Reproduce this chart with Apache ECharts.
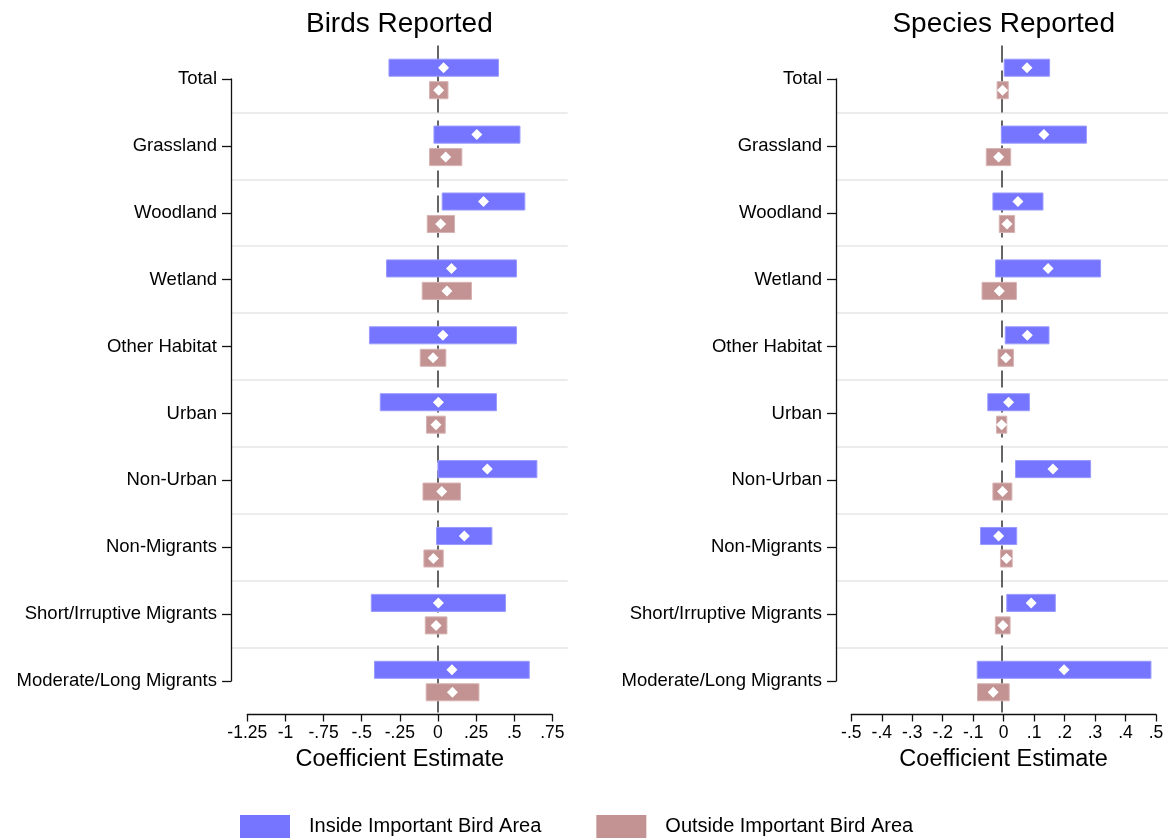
<!DOCTYPE html>
<html>
<head>
<meta charset="utf-8">
<script src="https://cdn.jsdelivr.net/npm/echarts@6/dist/echarts.min.js"></script>
<style>
html,body{margin:0;padding:0;background:#fff;}
#chart{width:1168px;height:840px;}
</style>
</head>
<body>
<div id="chart"></div>
<script>
// ---------- data ----------
const categories = ['Total','Grassland','Woodland','Wetland','Other Habitat','Urban','Non-Urban','Non-Migrants','Short/Irruptive Migrants','Moderate/Long Migrants'];

// Birds Reported – Inside Important Bird Area
const birdsInEst = [0.037, 0.255, 0.299, 0.089, 0.033, 0.003, 0.324, 0.173, 0.003, 0.092];
const birdsInLo  = [-0.321, -0.026, 0.028, -0.337, -0.449, -0.378, 0.000, -0.009, -0.437, -0.416];
const birdsInHi  = [0.397, 0.538, 0.570, 0.515, 0.515, 0.384, 0.649, 0.354, 0.443, 0.599];
// Birds Reported – Outside Important Bird Area
const birdsOutEst = [0.005, 0.051, 0.018, 0.059, -0.032, -0.013, 0.025, -0.030, -0.012, 0.095];
const birdsOutLo  = [-0.055, -0.055, -0.070, -0.103, -0.116, -0.075, -0.098, -0.092, -0.083, -0.077];
const birdsOutHi  = [0.066, 0.157, 0.109, 0.220, 0.052, 0.048, 0.148, 0.035, 0.059, 0.269];

// Species Reported – Inside Important Bird Area
const speciesInEst = [0.083, 0.139, 0.053, 0.153, 0.084, 0.022, 0.169, -0.011, 0.097, 0.206];
const speciesInLo  = [0.0075, -0.002, -0.030, -0.021, 0.011, -0.047, 0.045, -0.071, 0.016, -0.082];
const speciesInHi  = [0.158, 0.280, 0.136, 0.327, 0.156, 0.091, 0.294, 0.049, 0.177, 0.494];
// Species Reported – Outside Important Bird Area
const speciesOutEst = [0.002, -0.011, 0.017, -0.009, 0.013, -0.001, 0.002, 0.015, 0.003, -0.029];
const speciesOutLo  = [-0.016, -0.052, -0.009, -0.066, -0.013, -0.018, -0.030, -0.005, -0.022, -0.081];
const speciesOutHi  = [0.021, 0.029, 0.042, 0.048, 0.038, 0.016, 0.033, 0.034, 0.027, 0.024];

// tick values
const birdsTicks   = [-1.25, -1, -0.75, -0.5, -0.25, 0, 0.25, 0.5, 0.75];
const speciesTicks = [-0.5, -0.4, -0.3, -0.2, -0.1, 0, 0.1, 0.2, 0.3, 0.4, 0.5];

const titles = ['Birds Reported', 'Species Reported'];
const seriesNames = ['Inside Important Bird Area', 'Outside Important Bird Area'];
const axisTitle = 'Coefficient Estimate';

// ---------- styling ----------
const FONT = '"Liberation Sans", Arial, Helvetica, sans-serif';
const BLUE = '#7575FF', BLUE_EDGE = '#9a9aff';
const ROSE = '#C39393', ROSE_EDGE = '#d8b3b3';
const W = 1168, H = 840;

function fmtTick(v) {
  let s = String(Number(v.toFixed(2)));
  s = s.replace(/^0\./, '.').replace(/^-0\./, '-.');
  return s;
}

function rows(est, lo, hi) {
  return categories.map((c, i) => [i, lo[i], hi[i], est[i]]);
}

function makeRender(sign, fill, edge) {
  return function (params, api) {
    const i = api.value(0);
    const p0 = api.coord([api.value(1), i]);
    const p1 = api.coord([api.value(2), i]);
    const pe = api.coord([api.value(3), i]);
    const band = api.size([0, 1])[1];
    const cy = p0[1] + sign * band * 0.168;
    const h = band * 0.255;
    const d = 5.5;
    return {
      type: 'group',
      children: [
        { type: 'rect', shape: { x: p0[0], y: cy - h / 2, width: p1[0] - p0[0], height: h },
          style: { fill: fill, stroke: edge, lineWidth: 1 } },
        { type: 'polygon', shape: { points: [[pe[0], cy - d], [pe[0] + d, cy], [pe[0], cy + d], [pe[0] - d, cy]] },
          style: { fill: '#ffffff' } }
      ]
    };
  };
}

// panel geometry: plot region, tick span
const panels = [
  { plotLeft: 231, plotRight: 567.7, tickLeft: 247.3, tickRight: 552.3, ticks: birdsTicks,
    inE: birdsInEst, inL: birdsInLo, inH: birdsInHi, outE: birdsOutEst, outL: birdsOutLo, outH: birdsOutHi },
  { plotLeft: 836, plotRight: 1171.4, tickLeft: 851.3, tickRight: 1156, ticks: speciesTicks,
    inE: speciesInEst, inL: speciesInLo, inH: speciesInHi, outE: speciesOutEst, outL: speciesOutLo, outH: speciesOutHi }
];
const plotTop = 45.5, plotBottom = 714.5;
const catTop = 79, catBottom = 681;

const grid = [], xAxis = [], yAxis = [], series = [], title = [];

panels.forEach((p, k) => {
  const t0 = p.ticks[0], t1 = p.ticks[p.ticks.length - 1];
  const perPx = (t1 - t0) / (p.tickRight - p.tickLeft);
  const dataMin = t0 - (p.tickLeft - p.plotLeft) * perPx;
  const dataMax = t1 + (p.plotRight - p.tickRight) * perPx;
  const base = k * 3;

  // grid A: data
  grid.push({ left: p.plotLeft, width: p.plotRight - p.plotLeft, top: plotTop, height: plotBottom - plotTop });
  xAxis.push({ gridIndex: base, type: 'value', min: dataMin, max: dataMax, show: false });
  yAxis.push({ gridIndex: base, type: 'category', data: categories, inverse: true, boundaryGap: true,
    axisLine: { show: false }, axisTick: { show: false }, axisLabel: { show: false },
    splitLine: { show: true, showMinLine: false, showMaxLine: false, lineStyle: { color: '#e6e6e6', width: 1.5 } } });

  // grid B: category axis line & labels (spans first to last category)
  grid.push({ left: p.plotLeft, width: 10, top: catTop, height: catBottom - catTop });
  xAxis.push({ gridIndex: base + 1, type: 'value', show: false });
  yAxis.push({ gridIndex: base + 1, type: 'category', data: categories, inverse: true, boundaryGap: false,
    axisLine: { show: true, lineStyle: { color: '#111', width: 1.3 } },
    axisTick: { show: true, length: 9, lineStyle: { color: '#111', width: 1.3 } },
    axisLabel: { show: true, margin: 14, fontSize: 18.5, color: '#000', fontFamily: FONT },
    splitLine: { show: false } });

  // grid C: value axis line & labels (spans tick range)
  grid.push({ left: p.tickLeft, width: p.tickRight - p.tickLeft, top: plotTop, height: plotBottom - plotTop });
  xAxis.push({ gridIndex: base + 2, type: 'value', min: t0, max: t1, interval: p.ticks[1] - p.ticks[0],
    axisLine: { show: true, onZero: false, lineStyle: { color: '#111', width: 1.3 } },
    axisTick: { show: true, length: 7, lineStyle: { color: '#111', width: 1.3 } },
    axisLabel: { margin: 10, fontSize: 17.5, color: '#000', fontFamily: FONT, formatter: fmtTick, showMinLabel: true, showMaxLabel: true },
    splitLine: { show: false },
    name: axisTitle, nameLocation: 'middle', nameGap: 32,
    nameTextStyle: { fontSize: 23.5, color: '#000', fontFamily: FONT } });
  yAxis.push({ gridIndex: base + 2, type: 'value', show: false });

  // zero reference line (behind bars)
  series.push({ type: 'line', xAxisIndex: base, yAxisIndex: base, data: [], z: 1, silent: true,
    markLine: { z: 1, symbol: 'none', silent: true, animation: false, label: { show: false },
      lineStyle: { type: [17, 8], color: '#333', width: 1.5 },
      data: [{ xAxis: 0 }] } });

  series.push({ type: 'custom', name: seriesNames[0], xAxisIndex: base, yAxisIndex: base, z: 10,
    itemStyle: { color: BLUE }, encode: { x: [1, 2, 3], y: 0 },
    renderItem: makeRender(-1, BLUE, BLUE_EDGE), data: rows(p.inE, p.inL, p.inH) });
  series.push({ type: 'custom', name: seriesNames[1], xAxisIndex: base, yAxisIndex: base, z: 10,
    itemStyle: { color: ROSE }, encode: { x: [1, 2, 3], y: 0 },
    renderItem: makeRender(1, ROSE, ROSE_EDGE), data: rows(p.outE, p.outL, p.outH) });

  title.push({ text: titles[k], left: (p.plotLeft + p.plotRight) / 2, textAlign: 'center', top: 10, padding: 0,
    textStyle: { fontSize: 28, fontWeight: 'normal', color: '#000', fontFamily: FONT } });
});

const chart = echarts.init(document.getElementById('chart'), null, { renderer: 'canvas', width: W, height: H });
chart.setOption({
  backgroundColor: '#ffffff',
  animation: false,
  textStyle: { fontFamily: FONT },
  title: title,
  grid: grid,
  xAxis: xAxis,
  yAxis: yAxis,
  legend: {
    left: 240, top: 815, padding: 0,
    itemWidth: 50, itemHeight: 23, itemGap: 55, icon: 'rect',
    textStyle: { fontSize: 20, color: '#000', fontFamily: FONT, padding: [0, 0, 0, 14] },
    data: [
      { name: seriesNames[0], itemStyle: { color: BLUE } },
      { name: seriesNames[1], itemStyle: { color: ROSE } }
    ]
  },
  series: series
});
</script>
</body>
</html>
